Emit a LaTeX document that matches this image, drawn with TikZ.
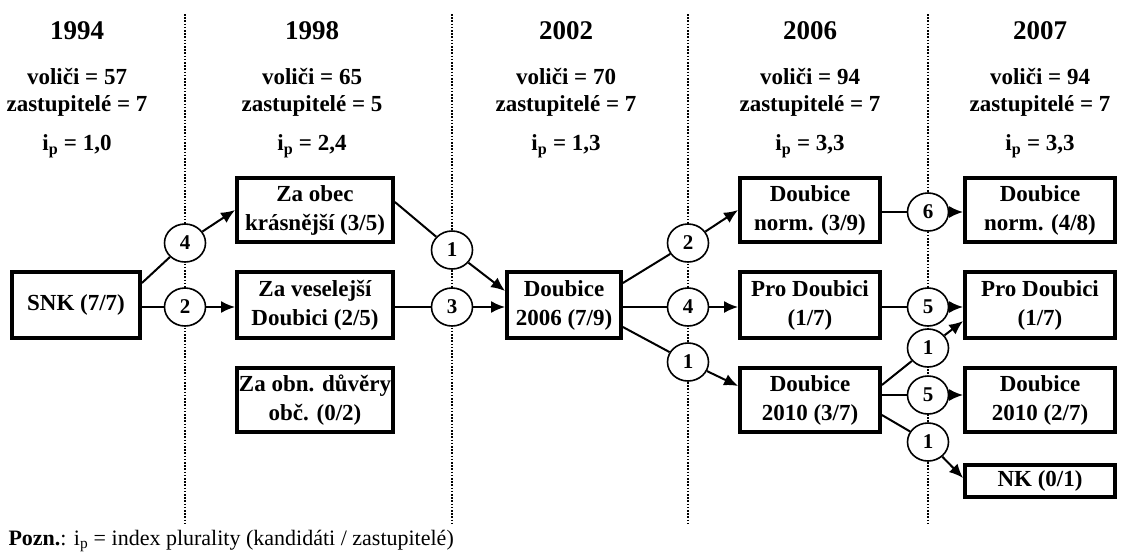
\documentclass[tikz,border=0pt]{standalone}
\usepackage{fontspec}
\setmainfont{Liberation Serif}
\usetikzlibrary{arrows.meta,shapes.geometric,calc}

\tikzset{
  party/.style={draw, line width=3.8pt, align=center, inner sep=0pt,
    font=\bfseries\fontsize{23}{29}\selectfont},
  flow/.style={draw, ellipse, line width=1.6pt, fill=white, inner sep=0pt,
    minimum width=41pt, minimum height=38pt, font=\bfseries\fontsize{21}{24}\selectfont},
  link/.style={line width=2pt},
  linkarrow/.style={line width=2pt, -{Latex[length=14pt,width=12pt]}},
  divider/.style={line width=1.6pt, dash pattern=on 1.6pt off 1.6pt},
  year/.style={font=\bfseries\fontsize{27}{30}\selectfont},
  stat/.style={font=\bfseries\fontsize{23}{27}\selectfont, align=center},
}

\begin{document}
\begin{tikzpicture}[x=1pt,y=-1pt]
\useasboundingbox (0,0) rectangle (1126,558);

% period dividers
\draw[divider] (185,14) coordinate (v1a) -- (185,525) coordinate (v1b);
\draw[divider] (452,14) coordinate (v2a) -- (452,525) coordinate (v2b);
\draw[divider] (688,14) coordinate (v3a) -- (688,525) coordinate (v3b);
\draw[divider] (928,14) coordinate (v4a) -- (928,525) coordinate (v4b);

% column headings
\node[year] (y94) at (77,31) {1994};
\node[year] (y98) at (312,31) {1998};
\node[year] (y02) at (566,31) {2002};
\node[year] (y06) at (810,31) {2006};
\node[year] (y07) at (1040,31) {2007};

\node[stat] (s94) at (77,92) {voliči = 57\\zastupitelé = 7};
\node[stat] (s98) at (312,92) {voliči = 65\\zastupitelé = 5};
\node[stat] (s02) at (566,92) {voliči = 70\\zastupitelé = 7};
\node[stat] (s06) at (810,92) {voliči = 94\\zastupitelé = 7};
\node[stat] (s07) at (1040,92) {voliči = 94\\zastupitelé = 7};

\node[stat] (p94) at (77,146) {i\textsubscript{p} = 1,0};
\node[stat] (p98) at (312,146) {i\textsubscript{p} = 2,4};
\node[stat] (p02) at (566,146) {i\textsubscript{p} = 1,3};
\node[stat] (p06) at (810,146) {i\textsubscript{p} = 3,3};
\node[stat] (p07) at (1040,146) {i\textsubscript{p} = 3,3};

% parties
\node[party, minimum width=128pt, minimum height=66pt] (snk) at (76,305) {SNK (7/7)};

\node[party, minimum width=156pt, minimum height=64pt] (zaobec) at (315,210) {Za obec\\krásnější (3/5)};
\node[party, minimum width=156pt, minimum height=66pt] (zavesel) at (315,305) {Za veselejší\\Doubici (2/5)};
\node[party, minimum width=156pt, minimum height=64pt] (zaobn) at (315,400) {Za obn. důvěry\\obč. (0/2)};

\node[party, minimum width=114pt, minimum height=66pt] (d2006) at (564,305) {Doubice\\2006 (7/9)};

\node[party, minimum width=140pt, minimum height=64pt] (dnorm) at (810,210) {Doubice\\norm. (3/9)};
\node[party, minimum width=140pt, minimum height=66pt] (prod) at (810,305) {Pro Doubici\\(1/7)};
\node[party, minimum width=140pt, minimum height=64pt] (d2010) at (810,400) {Doubice\\2010 (3/7)};

\node[party, minimum width=150pt, minimum height=64pt] (dnormb) at (1040,210) {Doubice\\norm. (4/8)};
\node[party, minimum width=150pt, minimum height=66pt] (prodb) at (1040,305) {Pro Doubici\\(1/7)};
\node[party, minimum width=150pt, minimum height=64pt] (d2010b) at (1040,400) {Doubice\\2010 (2/7)};
\node[party, minimum width=150pt, minimum height=32pt] (nk) at (1040,481) {NK (0/1)};

% transfer counts
\node[flow] (f1) at (185,243) {4};
\node[flow] (f2) at (185,307) {2};
\node[flow] (f3) at (452,250) {1};
\node[flow] (f4) at (452,307) {3};
\node[flow] (f5) at (688,243) {2};
\node[flow] (f6) at (688,307) {4};
\node[flow] (f7) at (688,362) {1};
\node[flow] (f8) at (928,212) {6};
\node[flow] (f9) at (928,307) {5};
\node[flow] (f10) at (928,348) {1};
\node[flow] (f11) at (928,395) {5};
\node[flow] (f12) at (928,442) {1};

% 1994 -> 1998
\draw[link] ([yshift=22pt]snk.east) -- (f1);
\draw[linkarrow] (f1) -- (zaobec.west);
\draw[link] (snk.east |- f2) -- (f2);
\draw[linkarrow] (f2) -- (zavesel.west |- f2);

% 1998 -> 2002
\draw[link] ([yshift=8pt]zaobec.east) -- (f3);
\draw[linkarrow] (f3) -- ([yshift=14pt]d2006.west);
\draw[link] (zavesel.east |- f4) -- (f4);
\draw[linkarrow] (f4) -- (d2006.west |- f4);

% 2002 -> 2006
\draw[link] ([yshift=22pt]d2006.east) -- (f5);
\draw[linkarrow] (f5) -- (dnorm.west);
\draw[link] (d2006.east |- f6) -- (f6);
\draw[linkarrow] (f6) -- (prod.west |- f6);
\draw[link] ([yshift=-22pt]d2006.east) -- (f7);
\draw[linkarrow] (f7) -- ([yshift=14pt]d2010.west);

% 2006 -> 2007
\draw[link] (dnorm.east |- f8) -- (f8);
\draw[linkarrow] (f8) -- (dnormb.west |- f8);
\draw[link] (prod.east |- f9) -- (f9);
\draw[linkarrow] (f9) -- (prodb.west |- f9);
\draw[link] ([yshift=15pt]d2010.east) -- (f10);
\draw[linkarrow] (f10) -- ([yshift=-16pt]prodb.west);
\draw[link] (d2010.east |- f11) -- (f11);
\draw[linkarrow] (f11) -- (d2010b.west |- f11);
\draw[link] ([yshift=-15pt]d2010.east) -- (f12);
\draw[linkarrow] (f12) -- ([yshift=3pt]nk.west);

% note
\node[anchor=west, font=\fontsize{22}{26}\selectfont] (note) at (5,541)
  {\textbf{Pozn.}: i\textsubscript{p} = index plurality (kandidáti / zastupitelé)};
\end{tikzpicture}
\end{document}
